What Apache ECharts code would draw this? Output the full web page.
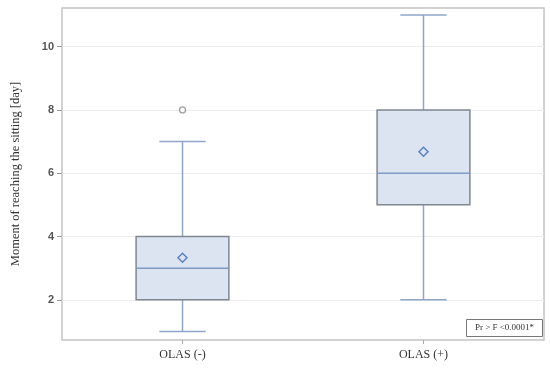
<!DOCTYPE html>
<html><head><meta charset="utf-8">
<script src="https://cdn.jsdelivr.net/npm/echarts@6/dist/echarts.min.js"></script>
<style>html,body{margin:0;padding:0;background:#fff}#c{width:550px;height:371px}</style>
</head><body><div id="c"></div>
<script>
const categories = ['OLAS (-)', 'OLAS (+)'];
// [min, Q1, median, Q3, max]
const boxValues = [[1, 2, 3, 4, 7], [2, 5, 6, 8, 11]];
const meanValues = [3.33, 6.68];
const outliers = [[0, 8]];
const yTicks = [2, 4, 6, 8, 10];
const yMin = 0.73, yMax = 11.22;
const axisTitle = 'Moment of reaching the sitting [day]';
const noteText = 'Pr > F <0.0001*';

const chart = echarts.init(document.getElementById('c'));
const boxData = boxValues.map((v, i) => [i].concat(v).concat([meanValues[i]]));

function renderBox(params, api) {
  const x = api.value(0);
  const pMin = api.coord([x, api.value(1)]);
  const pQ1 = api.coord([x, api.value(2)]);
  const pMed = api.coord([x, api.value(3)]);
  const pQ3 = api.coord([x, api.value(4)]);
  const pMax = api.coord([x, api.value(5)]);
  const pMean = api.coord([x, api.value(6)]);
  const band = api.size([1, 0])[0];
  const bw = band * 0.385;
  const cw = bw / 2;
  const cx = pMed[0];
  const whisk = {stroke: '#8ea6ca', lineWidth: 1.5};
  const d = 4.5;
  return {
    type: 'group',
    children: [
      {type: 'line', shape: {x1: cx, y1: pMin[1], x2: cx, y2: pQ1[1]}, style: whisk},
      {type: 'line', shape: {x1: cx, y1: pQ3[1], x2: cx, y2: pMax[1]}, style: whisk},
      {type: 'line', shape: {x1: cx - cw / 2, y1: pMin[1], x2: cx + cw / 2, y2: pMin[1]}, style: whisk},
      {type: 'line', shape: {x1: cx - cw / 2, y1: pMax[1], x2: cx + cw / 2, y2: pMax[1]}, style: whisk},
      {type: 'rect', shape: {x: cx - bw / 2, y: pQ3[1], width: bw, height: pQ1[1] - pQ3[1]},
        style: {fill: '#dbe4f0', stroke: '#7f8790', lineWidth: 1.5}},
      {type: 'line', shape: {x1: cx - bw / 2, y1: pMed[1], x2: cx + bw / 2, y2: pMed[1]},
        style: {stroke: '#7f9cc6', lineWidth: 1.5}},
      {type: 'polygon', shape: {points: [[cx, pMean[1] - d], [cx + d, pMean[1]], [cx, pMean[1] + d], [cx - d, pMean[1]]]},
        style: {fill: 'none', stroke: '#5b83c2', lineWidth: 1.5}}
    ]
  };
}

chart.setOption({
  animation: false,
  grid: {left: 62, right: 6, top: 8, bottom: 31, show: true, borderColor: '#c4c4c4', borderWidth: 1.5},
  xAxis: {
    type: 'category', data: categories, boundaryGap: true,
    axisLine: {show: false},
    axisTick: {show: true, alignWithLabel: true, length: 4, lineStyle: {color: '#aaa'}},
    axisLabel: {fontFamily: 'Liberation Serif', fontSize: 12, color: '#333', margin: 9},
    splitLine: {show: false}
  },
  yAxis: {
    type: 'value', min: yMin, max: yMax,
    name: axisTitle, nameLocation: 'middle', nameGap: 40,
    nameTextStyle: {fontFamily: 'Liberation Serif', fontSize: 12.5, color: '#333'},
    axisLine: {show: false},
    axisTick: {show: true, length: 5, customValues: yTicks, lineStyle: {color: '#999'}},
    axisLabel: {customValues: yTicks, fontFamily: 'Liberation Sans', fontSize: 11, fontWeight: 'bold', color: '#555', margin: 8},
    splitLine: {show: false}
  },
  series: [
    {
      type: 'custom', renderItem: renderBox, data: boxData, z: 3,
      encode: {x: 0, y: [1, 5]}
    },
    {
      type: 'scatter', data: outliers, symbol: 'circle', symbolSize: 6, z: 4,
      itemStyle: {color: '#fff', borderColor: '#888', borderWidth: 1.3},
      markLine: {
        silent: true, symbol: 'none', label: {show: false}, z: 1,
        lineStyle: {color: '#ececec', type: 'solid', width: 1.2},
        data: yTicks.map(v => ({yAxis: v}))
      }
    }
  ],
  graphic: [
    {
      type: 'group', right: 7, bottom: 34,
      children: [
        {type: 'rect', shape: {x: 0, y: 0, width: 76, height: 17}, style: {fill: '#fff', stroke: '#777', lineWidth: 1}},
        {type: 'text', x: 38, y: 8.5, style: {text: noteText, fontFamily: 'Liberation Serif', fontSize: 9, fill: '#333', align: 'center', verticalAlign: 'middle'}}
      ]
    }
  ]
});
</script>
</body></html>
